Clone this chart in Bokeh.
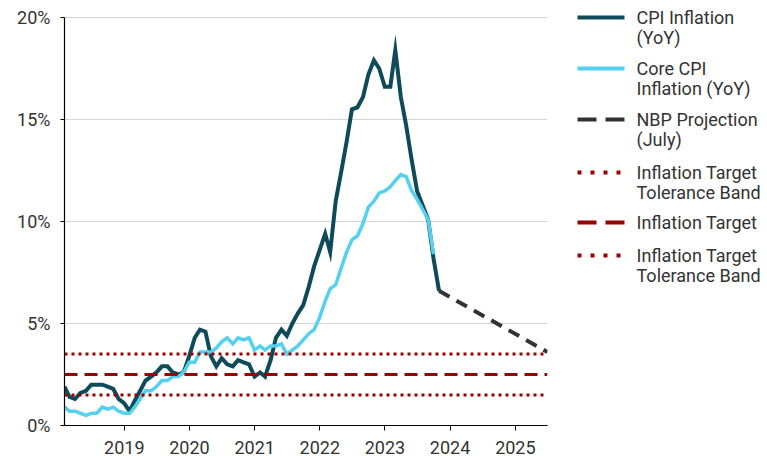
import pandas as pd
from bokeh.plotting import figure
from bokeh.layouts import row
from bokeh.models import (Range1d, FixedTicker, DatetimeTickFormatter, PrintfTickFormatter,
                          Span, Label, Arrow)
from bokeh.embed import file_html
from bokeh.resources import INLINE

# ---------------- data ----------------
cpi_start = "2018-01-01"
cpi = [1.9, 1.4, 1.3, 1.6, 1.7, 2.0, 2.0, 2.0, 1.9, 1.8, 1.3, 1.1,
       0.7, 1.2, 1.7, 2.2, 2.4, 2.6, 2.9, 2.9, 2.6, 2.5, 2.6, 3.4,
       4.3, 4.7, 4.6, 3.4, 2.9, 3.3, 3.0, 2.9, 3.2, 3.1, 3.0, 2.4,
       2.6, 2.4, 3.2, 4.3, 4.7, 4.4, 5.0, 5.5, 5.9, 6.8, 7.8, 8.6,
       9.4, 8.5, 11.0, 12.4, 13.9, 15.5, 15.6, 16.1, 17.2, 17.9, 17.5, 16.6,
       16.6, 18.4, 16.1, 14.7, 13.0, 11.5, 10.8, 10.1, 8.2, 6.6]
core = [0.9, 0.7, 0.7, 0.6, 0.5, 0.6, 0.6, 0.9, 0.8, 0.9, 0.7, 0.6,
        0.6, 0.9, 1.3, 1.7, 1.7, 1.9, 2.2, 2.2, 2.4, 2.4, 2.6, 3.1,
        3.1, 3.6, 3.6, 3.6, 3.8, 4.1, 4.3, 4.0, 4.3, 4.2, 4.3, 3.7,
        3.9, 3.7, 3.9, 3.9, 4.0, 3.5, 3.7, 3.9, 4.2, 4.5, 4.7, 5.3,
        6.1, 6.7, 6.9, 7.7, 8.5, 9.1, 9.3, 9.9, 10.7, 11.0, 11.4, 11.5,
        11.7, 12.0, 12.3, 12.2, 11.5, 11.1, 10.6, 10.1, 8.4]
proj_dates = ["2023-10-31", "2025-06-30"]
proj = [6.6, 3.6]
tolerance_upper = 3.5
target = 2.5
tolerance_lower = 1.5
year_ticks = [2019, 2020, 2021, 2022, 2023, 2024, 2025]
y_ticks = [0, 5, 10, 15, 20]
legend_labels = [["CPI Inflation", "(YoY)"],
                 ["Core CPI", "Inflation (YoY)"],
                 ["NBP Projection", "(July)"],
                 ["Inflation Target", "Tolerance Band"],
                 ["Inflation Target"],
                 ["Inflation Target", "Tolerance Band"]]

# ---------------- styling ----------------
C_CPI = "#0f4a5b"
C_CORE = "#55d1f0"
C_PROJ = "#333333"
C_RED = "#990000"
TXT = "#333333"
FONT = "Roboto"
FS = "18px"
H, BOTTOM_BORDER = 456, 31
FRAME_H = H - BOTTOM_BORDER          # frame spans full height above the x axis
TOP_GAP = 17                          # pixels between canvas top and the 20% line
Y_TOP = 20 * FRAME_H / (FRAME_H - TOP_GAP)

def month_ends(start, n):
    return pd.date_range(start=start, periods=n, freq="MS") + pd.offsets.MonthEnd(0)

cpi_x = month_ends(cpi_start, len(cpi))
core_x = month_ends(cpi_start, len(core))
proj_x = pd.to_datetime(proj_dates)

p = figure(width=552, height=H, x_axis_type="datetime",
           x_range=Range1d(pd.Timestamp("2018-01-31"), pd.Timestamp("2025-06-30")),
           y_range=Range1d(0, Y_TOP),
           output_backend="svg", toolbar_location=None,
           min_border_left=64, min_border_right=5, min_border_top=0,
           min_border_bottom=BOTTOM_BORDER)
p.outline_line_color = None
p.background_fill_color = "white"
p.border_fill_color = "white"

p.line(cpi_x, cpi, line_width=4, color=C_CPI, line_join="miter")
p.line(core_x, core, line_width=3.5, color=C_CORE, line_join="miter")
p.line(proj_x, proj, line_width=4, color=C_PROJ, line_dash="12 8")

p.add_layout(Span(location=tolerance_upper, dimension="width", line_color=C_RED, line_width=3, line_dash="3 4"))
p.add_layout(Span(location=target, dimension="width", line_color=C_RED, line_width=3, line_dash="13 7"))
p.add_layout(Span(location=tolerance_lower, dimension="width", line_color=C_RED, line_width=3, line_dash="3 4"))

xt = [pd.Timestamp(f"{y}-01-01").value / 1e6 for y in year_ticks]
p.xaxis.ticker = FixedTicker(ticks=xt)
p.xaxis.formatter = DatetimeTickFormatter(years="%Y", months="%Y", days="%Y", hours="%Y",
                                          minutes="%Y", seconds="%Y", milliseconds="%Y",
                                          minsec="%Y", hourmin="%Y")
p.yaxis.ticker = FixedTicker(ticks=y_ticks)
p.yaxis.formatter = PrintfTickFormatter(format="%d%%")
p.yaxis.bounds = (0, 20)

for ax in (p.xaxis[0], p.yaxis[0]):
    ax.axis_line_color = "black"
    ax.axis_line_width = 1.2
    ax.major_tick_line_color = "black"
    ax.major_tick_in = 0
    ax.minor_tick_out = 0
    ax.minor_tick_in = 0
    ax.major_label_text_font = FONT
    ax.major_label_text_font_size = FS
    ax.major_label_text_color = TXT
p.xaxis.major_tick_out = 5
p.xaxis.major_label_standoff = 10
p.yaxis.major_tick_out = 4
p.yaxis.major_label_standoff = 10

p.xgrid.visible = False
p.ygrid.grid_line_color = "#d4d4d4"
p.ygrid.grid_line_width = 1

# ---------------- legend panel (pixel-like coordinates) ----------------
lg = figure(width=215, height=H, x_range=Range1d(0, 215), y_range=Range1d(FRAME_H, 0),
            output_backend="svg", toolbar_location=None,
            min_border_left=0, min_border_right=0, min_border_top=0,
            min_border_bottom=BOTTOM_BORDER,
            x_axis_location=None, y_axis_location=None)
lg.outline_line_color = None
lg.xgrid.visible = False
lg.ygrid.visible = False

item_y = [17, 68, 119, 172, 222, 255]
styles = [(C_CPI, None), (C_CORE, None), (C_PROJ, "19 9"),
          (C_RED, "4 9"), (C_RED, "19 9"), (C_RED, "4 9")]
x0, x1, tx = 25, 72, 84
for yy, (col, dash), labels in zip(item_y, styles, legend_labels):
    kw = dict(line_width=4, line_color=col, line_cap="butt")
    if dash:
        kw["line_dash"] = dash
    lg.add_layout(Arrow(x_start=x0, y_start=yy, x_end=x1, y_end=yy, end=None, **kw))
    for i, t in enumerate(labels):
        lg.add_layout(Label(x=tx, y=yy + 20 * i, text=t, text_font=FONT,
                            text_font_size=FS, text_color=TXT,
                            text_baseline="middle", text_align="left"))

layout = row(p, lg)
open("out.html", "w").write(file_html(layout, INLINE))
